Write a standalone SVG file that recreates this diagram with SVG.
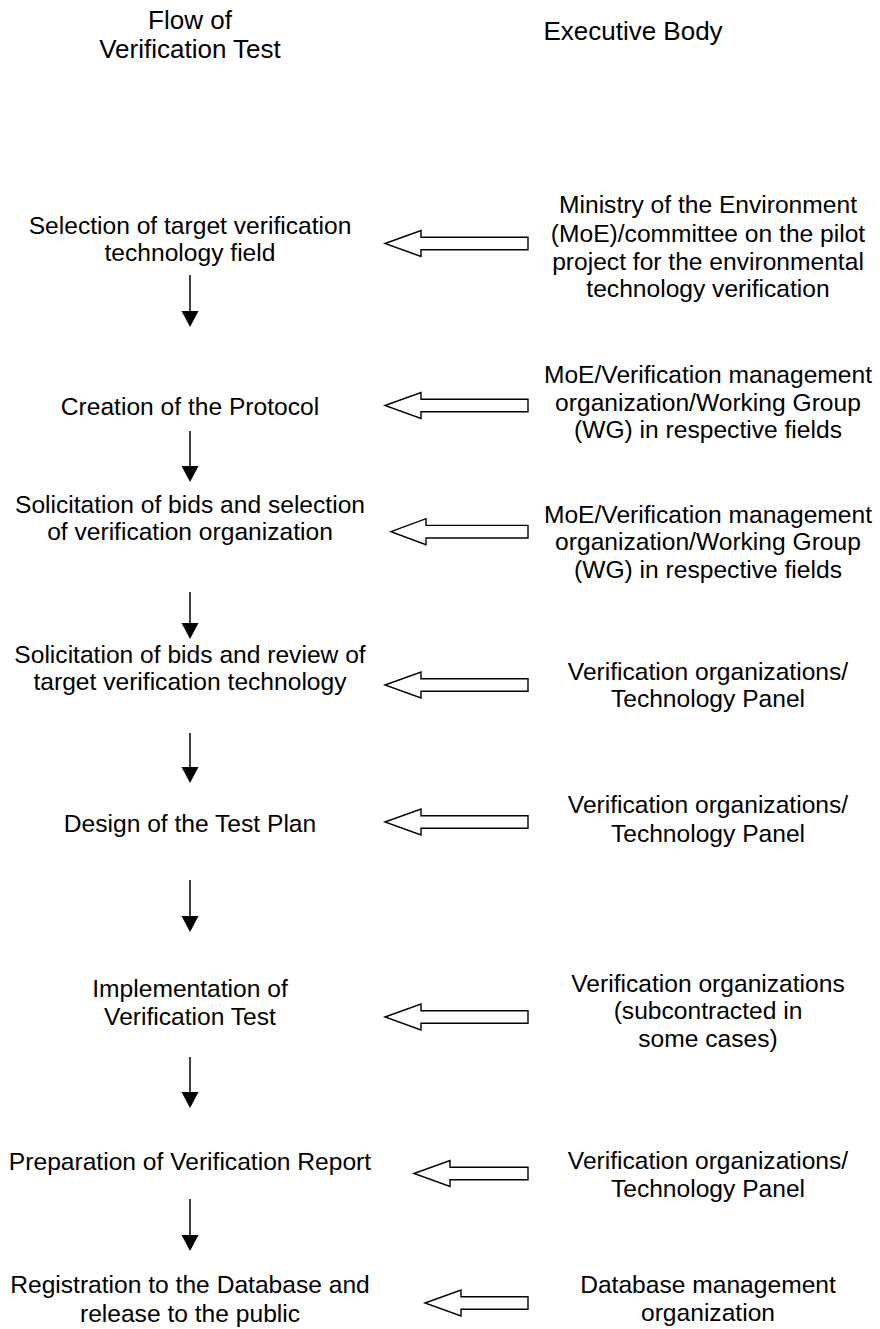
<svg xmlns="http://www.w3.org/2000/svg" width="880" height="1329" viewBox="0 0 880 1329">
<defs>
<style>
text{font-family:"Liberation Sans",Arial,sans-serif;font-size:24.6px;fill:#000;text-anchor:middle}
.hd{font-size:26px}
.blk{fill:#fff;stroke:#000;stroke-width:1.4;stroke-linejoin:miter}
.ln{stroke:#000;stroke-width:1.5;fill:none}
.hdv{fill:#000}
</style>
<polygon id="blockArrow" class="blk" points="0,0 36,-13 36,-6.3 143,-6.3 143,6.3 36,6.3 36,13"/>
</defs>
<rect width="880" height="1329" fill="#fff"/>
<g id="headers">
<text class="hd" x="190" y="29">Flow of</text>
<text class="hd" x="190" y="58">Verification Test</text>
<text class="hd" x="633" y="40">Executive Body</text>
</g>
<g id="step1"><text x="190" y="234">Selection of target verification</text><text x="190" y="261">technology field</text></g>
<g id="step2"><text x="190" y="415">Creation of the Protocol</text></g>
<g id="step3"><text x="190" y="513">Solicitation of bids and selection</text><text x="190" y="540">of verification organization</text></g>
<g id="step4"><text x="190" y="663">Solicitation of bids and review of</text><text x="190" y="690">target verification technology</text></g>
<g id="step5"><text x="190" y="832">Design of the Test Plan</text></g>
<g id="step6"><text x="190" y="997">Implementation of</text><text x="190" y="1025">Verification Test</text></g>
<g id="step7"><text x="190" y="1170">Preparation of Verification Report</text></g>
<g id="step8"><text x="190" y="1293">Registration to the Database and</text><text x="190" y="1322">release to the public</text></g>
<g id="body1"><text x="708" y="213">Ministry of the Environment</text><text x="708" y="242">(MoE)/committee on the pilot</text><text x="708" y="270">project for the environmental</text><text x="708" y="297">technology verification</text></g>
<g id="body2"><text x="708" y="383">MoE/Verification management</text><text x="708" y="411">organization/Working Group</text><text x="708" y="438">(WG) in respective fields</text></g>
<g id="body3"><text x="708" y="523">MoE/Verification management</text><text x="708" y="550">organization/Working Group</text><text x="708" y="578">(WG) in respective fields</text></g>
<g id="body4"><text x="708" y="680">Verification organizations/</text><text x="708" y="707">Technology Panel</text></g>
<g id="body5"><text x="708" y="813">Verification organizations/</text><text x="708" y="842">Technology Panel</text></g>
<g id="body6"><text x="708" y="992">Verification organizations</text><text x="708" y="1019">(subcontracted in</text><text x="708" y="1047">some cases)</text></g>
<g id="body7"><text x="708" y="1169">Verification organizations/</text><text x="708" y="1197">Technology Panel</text></g>
<g id="body8"><text x="708" y="1293">Database management</text><text x="708" y="1321">organization</text></g>
<g id="connectors">
<g transform="translate(190,327)"><line class="ln" x1="0" y1="-52" x2="0" y2="-10"/><polygon class="hdv" points="-8.5,-16 8.5,-16 0,0"/></g>
<g transform="translate(190,482)"><line class="ln" x1="0" y1="-51" x2="0" y2="-10"/><polygon class="hdv" points="-8.5,-16 8.5,-16 0,0"/></g>
<g transform="translate(190,639)"><line class="ln" x1="0" y1="-47" x2="0" y2="-10"/><polygon class="hdv" points="-8.5,-16 8.5,-16 0,0"/></g>
<g transform="translate(190,783)"><line class="ln" x1="0" y1="-50" x2="0" y2="-10"/><polygon class="hdv" points="-8.5,-16 8.5,-16 0,0"/></g>
<g transform="translate(190,932)"><line class="ln" x1="0" y1="-52" x2="0" y2="-10"/><polygon class="hdv" points="-8.5,-16 8.5,-16 0,0"/></g>
<g transform="translate(190,1108)"><line class="ln" x1="0" y1="-51" x2="0" y2="-10"/><polygon class="hdv" points="-8.5,-16 8.5,-16 0,0"/></g>
<g transform="translate(190,1251)"><line class="ln" x1="0" y1="-52" x2="0" y2="-10"/><polygon class="hdv" points="-8.5,-16 8.5,-16 0,0"/></g>
<use href="#blockArrow" x="385" y="243.5"/>
<use href="#blockArrow" x="385" y="405.5"/>
<polygon class="blk" transform="translate(391,531.7)" points="0,0 35,-13 35,-6.3 137,-6.3 137,6.3 35,6.3 35,13"/>
<use href="#blockArrow" x="385" y="685"/>
<use href="#blockArrow" x="385" y="822"/>
<use href="#blockArrow" x="385" y="1017"/>
<polygon class="blk" transform="translate(414,1173.5)" points="0,0 36,-13 36,-6.3 114,-6.3 114,6.3 36,6.3 36,13"/>
<polygon class="blk" transform="translate(425,1303)" points="0,0 36,-13 36,-6.3 103,-6.3 103,6.3 36,6.3 36,13"/>
</g>
</svg>
